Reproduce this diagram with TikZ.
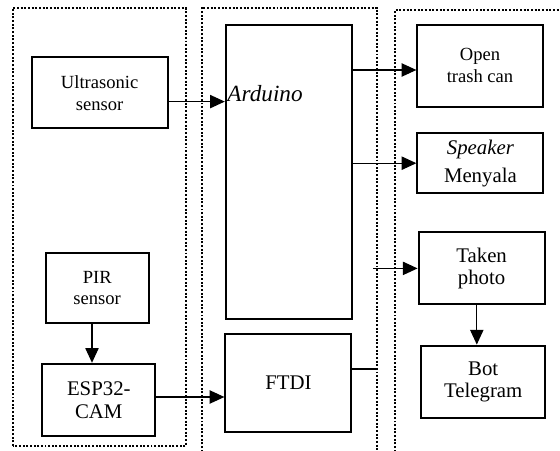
\documentclass[tikz,border=0pt]{standalone}
\usepackage{fontspec}
\setmainfont{Liberation Serif}
\usetikzlibrary{arrows.meta}
\begin{document}
\begin{tikzpicture}[x=1cm,y=1cm,>={Triangle[length=10.5pt,width=9.5pt]},
  blok/.style={draw, line width=1.45pt, align=center, inner sep=1pt},
  panel/.style={line width=1.4pt, dash pattern=on 1.4pt off 1.2pt},
  wire/.style={line width=0.8pt},
  kecil/.style={font=\fontsize{13.2}{15.6}\selectfont},
  besar/.style={font=\fontsize{14.8}{16}\selectfont}]
  \useasboundingbox (0,0) rectangle (14,11.25);
  \clip (0,0) rectangle (14,11.25);

  % Panels
  \draw[panel] (0.32,0.1) rectangle (4.64,11.05);
  \draw[panel] (5.04,-0.5) rectangle (9.42,11.06);
  \draw[panel] (9.88,-0.5) rectangle (14.5,11.0);

  % Input side
  \node[blok, kecil, minimum width=3.4cm, minimum height=1.77cm] (ultra) at (2.49,8.93) {Ultrasonic\\sensor};
  \node[blok, kecil, minimum width=2.57cm, minimum height=1.77cm] (pir) at (2.43,4.05) {PIR\\sensor};
  \node[blok, besar, minimum width=2.83cm, minimum height=1.81cm] (esp) at (2.47,1.25) {ESP32-\\CAM};

  % Controller
  \node[blok, minimum width=3.15cm, minimum height=7.35cm] (arduino) at (7.22,6.96) {};
  \node[anchor=base west, inner sep=0pt, font=\fontsize{16.5}{18}\selectfont\itshape] (arduinolbl) at (5.68,8.72) {Arduino};
  \node[blok, besar, minimum width=3.15cm, minimum height=2.47cm] (ftdi) at (7.21,1.675) {FTDI};

  % Output side
  \node[blok, kecil, minimum width=3.13cm, minimum height=2.05cm] (open) at (12.0,9.61) {Open\\trash can};
  \node[blok, besar, minimum width=3.15cm, minimum height=1.5cm] (speaker) at (12.01,7.17) {\textit{Speaker}\\[4pt]Menyala};
  \node[blok, besar, minimum width=3.15cm, minimum height=1.8cm] (taken) at (12.04,4.54) {Taken\\photo};
  \node[blok, besar, minimum width=3.1cm, minimum height=1.82cm] (bot) at (12.08,1.7) {Bot\\Telegram};

  % Connections
  \coordinate (tap) at (9.33,0);
  \coordinate (ftdiend) at (9.42,2.025);
  \draw[wire,->] ([yshift=-0.22cm]ultra.east) -- ([yshift=-0.22cm]ultra.east -| arduino.west);
  \draw[wire,->] ([yshift=-0.11cm]open.west -| arduino.east) -- ([yshift=-0.11cm]open.west);
  \draw[wire,->] (speaker.west -| arduino.east) -- (speaker.west);
  \draw[wire,->] (tap |- taken.west) -- (taken.west);
  \draw[wire] (ftdiend -| ftdi.east) -- (ftdiend);
  \draw[wire,->] ([yshift=0.075cm]esp.east) -- ([yshift=0.075cm]esp.east -| ftdi.west);
  \draw[wire,->] ([xshift=-0.13cm]pir.south) -- ([xshift=-0.13cm]pir.south |- esp.north);
  \draw[wire,->] ([xshift=-0.12cm]taken.south) -- ([xshift=-0.12cm]taken.south |- bot.north);
\end{tikzpicture}
\end{document}
